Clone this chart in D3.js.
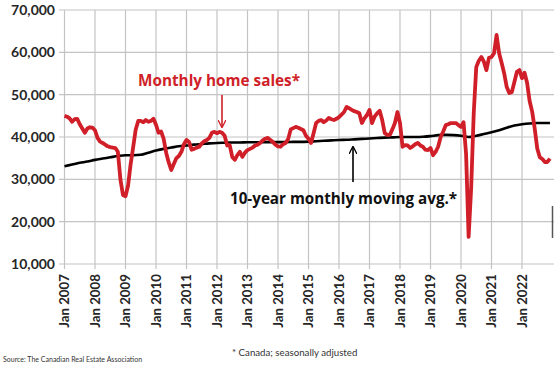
<!DOCTYPE html>
<html>
<head>
<meta charset="utf-8">
<script src="https://cdn.jsdelivr.net/npm/d3@7"></script>
<style>
  body { margin: 0; background: #fff; }
  text { font-family: Lato, "Open Sans", sans-serif; }
  .note { font-family: "Open Sans", Lato, sans-serif; }
</style>
</head>
<body>
<svg id="chart" width="554" height="368"></svg>
<script>
// x axis: one tick per January
const years = d3.range(2007, 2023);
const yTicks = [10000, 20000, 30000, 40000, 50000, 60000, 70000];

// monthly home sales, Jan 2007 .. Dec 2022 (seasonally adjusted)
const sales = [
  45000, 44800, 44400, 43600, 44200, 44300, 43000, 42000, 41000, 42000, 42300, 42200, // 2007
  41600, 39800, 38900, 38600, 38200, 37800, 37600, 37500, 37400, 36500, 30000, 26300, // 2008
  26000, 28500, 33500, 37500, 41700, 43800, 43800, 43500, 44000, 43600, 43800, 44300, // 2009
  42900, 41000, 41300, 39600, 36300, 34000, 32200, 33600, 35000, 35500, 36500, 38300, // 2010
  39300, 38800, 37000, 37200, 37500, 37700, 38500, 39000, 39300, 39800, 41000, 41200, // 2011
  40900, 41200, 41000, 40300, 38000, 38100, 35300, 34600, 35700, 36500, 35300, 36300, // 2012
  36900, 37200, 37500, 38000, 38200, 38600, 39200, 39600, 39800, 39300, 38800, 38200, // 2013
  37800, 37700, 38300, 38600, 39500, 41800, 42100, 42400, 42200, 41900, 41600, 40300, // 2014
  39600, 38600, 40900, 43300, 43800, 44000, 43500, 43900, 44500, 44200, 44000, 44300, // 2015
  44700, 45300, 45900, 47100, 46800, 46400, 46100, 45900, 45600, 43300, 44400, 45200, // 2016
  46400, 43300, 44800, 45600, 46200, 44000, 40900, 40500, 40500, 41800, 43300, 45900, // 2017
  43300, 37700, 38100, 38000, 37400, 37800, 38300, 38600, 38000, 37700, 37000, 36900, // 2018
  37400, 35700, 36500, 37700, 40000, 41300, 42800, 43000, 43300, 43300, 43300, 42800, // 2019
  42400, 43500, 36000, 16400, 28000, 45500, 56500, 58000, 58900, 57800, 55800, 58700, // 2020
  58900, 59800, 64100, 59800, 57500, 55000, 51800, 50400, 50600, 53000, 55400, 55800, // 2021
  53900, 55200, 52800, 48500, 46000, 42000, 37300, 35200, 34800, 34100, 34100, 34900  // 2022
];

// 10-year monthly moving average, read every 3 months from Jan 2007 (last point Dec 2022)
const movingAvg = [
  33100, 33500, 33900, 34200, 34600, 34900, 35200, 35500,
  35700, 35700, 35800, 36300, 36800, 37200, 37500, 37800,
  38000, 38200, 38350, 38500, 38600, 38650, 38700, 38700,
  38750, 38750, 38800, 38800, 38800, 38800, 38850, 38850,
  38900, 39000, 39100, 39200, 39300, 39350, 39450, 39550,
  39650, 39750, 39850, 39900, 40000, 40000, 40000, 40050,
  40200, 40450, 40500, 40450, 40300, 40000, 40300, 40700,
  41100, 41600, 42200, 42700, 43000, 43200, 43300, 43300,
  43300
];

const svg = d3.select("#chart");
const nMonths = sales.length;

const x = d3.scaleLinear()
  .domain([0, 12 * 15])
  .range([64.5, 522]);

const y = d3.scaleLinear()
  .domain([10000, 70000])
  .range([264, 10]);

const red = "#d01f28";
const gridColor = "#c4c4c4";

// grid
svg.append("g")
  .selectAll("line")
  .data(yTicks)
  .join("line")
  .attr("x1", 59)
  .attr("x2", 554)
  .attr("y1", d => y(d))
  .attr("y2", d => y(d))
  .attr("stroke", gridColor)
  .attr("stroke-width", 1.2);

svg.append("g")
  .selectAll("line")
  .data(years)
  .join("line")
  .attr("x1", d => x((d - 2007) * 12))
  .attr("x2", d => x((d - 2007) * 12))
  .attr("y1", 10)
  .attr("y2", 269)
  .attr("stroke", gridColor)
  .attr("stroke-width", 1.2);

// y labels
svg.append("g")
  .selectAll("text")
  .data(yTicks)
  .join("text")
  .attr("x", 55)
  .attr("y", d => y(d))
  .attr("dy", "0.36em")
  .attr("text-anchor", "end")
  .attr("font-size", 14)
  .attr("font-weight", "bold")
  .attr("fill", "#262626")
  .text(d3.format(","));

// x labels, rotated
svg.append("g")
  .selectAll("text")
  .data(years)
  .join("text")
  .attr("transform", d => `translate(${x((d - 2007) * 12)},274) rotate(-90)`)
  .attr("dy", "0.36em")
  .attr("text-anchor", "end")
  .attr("font-size", 13.3)
  .attr("font-weight", "bold")
  .attr("fill", "#262626")
  .text(d => "Jan " + d);

// lines
const salesLine = d3.line()
  .x((d, i) => x(i))
  .y(d => y(d));

const avgLine = d3.line()
  .x((d, i) => x(Math.min(i * 3, nMonths - 1)))
  .y(d => y(d))
  .curve(d3.curveMonotoneX);

svg.append("path")
  .datum(movingAvg)
  .attr("d", avgLine)
  .attr("fill", "none")
  .attr("stroke", "#000")
  .attr("stroke-width", 2.6);

svg.append("path")
  .datum(sales)
  .attr("d", salesLine)
  .attr("fill", "none")
  .attr("stroke", red)
  .attr("stroke-width", 3.8)
  .attr("stroke-linejoin", "round");

// arrow heads
const defs = svg.append("defs");
[["arrRed", red], ["arrBlack", "#000"]].forEach(([id, c]) => {
  defs.append("marker")
    .attr("id", id)
    .attr("viewBox", "0 0 10 10")
    .attr("refX", 9)
    .attr("refY", 5)
    .attr("markerWidth", 5)
    .attr("markerHeight", 5)
    .attr("orient", "auto")
    .append("path")
    .attr("d", "M0,0 L10,5 L0,10")
    .attr("fill", "none")
    .attr("stroke", c)
    .attr("stroke-width", 1.6);
});

// annotations
svg.append("text")
  .attr("class", "note")
  .attr("x", 138)
  .attr("y", 86)
  .attr("font-size", 15.3)
  .attr("font-weight", "bold")
  .attr("fill", red)
  .text("Monthly home sales*");

svg.append("line")
  .attr("x1", 222).attr("x2", 222)
  .attr("y1", 95).attr("y2", 127)
  .attr("stroke", red)
  .attr("stroke-width", 1.6)
  .attr("marker-end", "url(#arrRed)");

svg.append("text")
  .attr("class", "note")
  .attr("x", 230)
  .attr("y", 204)
  .attr("font-size", 15.2)
  .attr("font-weight", "bold")
  .attr("fill", "#111")
  .text("10-year monthly moving avg.*");

svg.append("line")
  .attr("x1", 353).attr("x2", 353)
  .attr("y1", 182).attr("y2", 147)
  .attr("stroke", "#000")
  .attr("stroke-width", 1.6)
  .attr("marker-end", "url(#arrBlack)");

// stray mark at the cropped right edge
svg.append("line")
  .attr("x1", 552.5).attr("x2", 552.5)
  .attr("y1", 206).attr("y2", 238)
  .attr("stroke", "#555")
  .attr("stroke-width", 1.5);

// footnotes
svg.append("text")
  .attr("x", 232)
  .attr("y", 356)
  .attr("font-size", 9.7)
  .attr("fill", "#333")
  .text("* Canada; seasonally adjusted");

svg.append("text")
  .attr("x", 3)
  .attr("y", 362)
  .attr("font-size", 7)
  .attr("fill", "#333")
  .text("Source: The Canadian Real Estate Association");
</script>
</body>
</html>
